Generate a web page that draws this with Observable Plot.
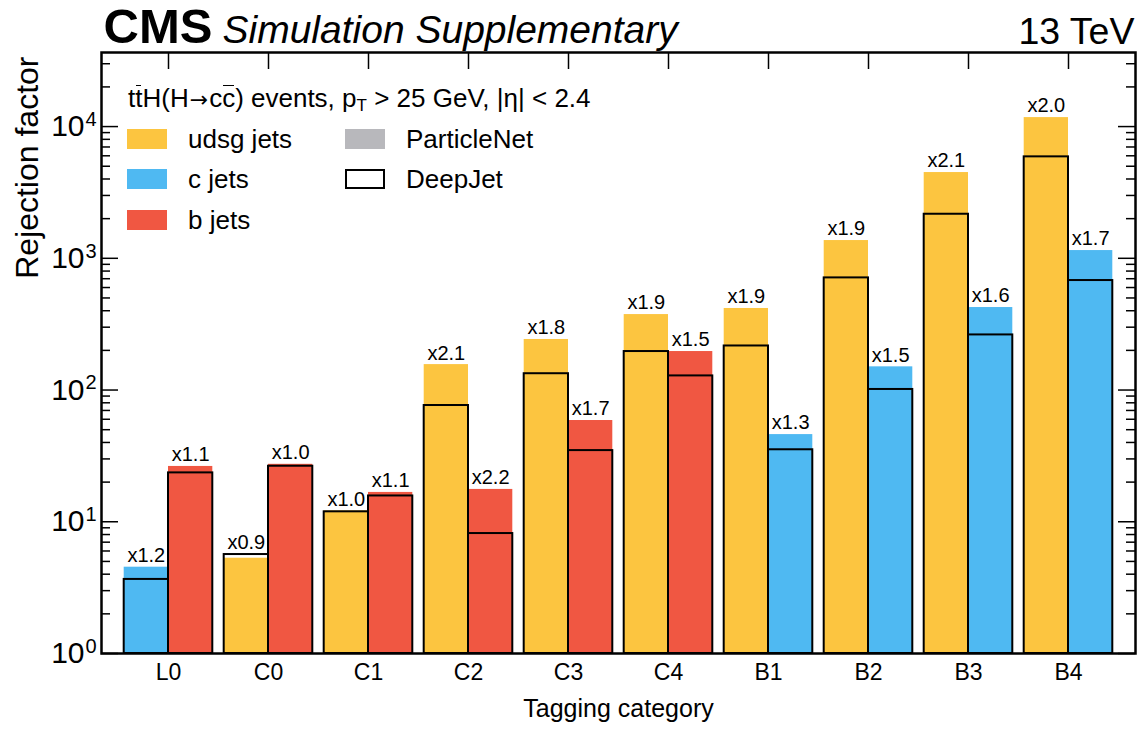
<!DOCTYPE html>
<html><head><meta charset="utf-8">
<script src="https://cdn.jsdelivr.net/npm/d3@7"></script>
<script src="https://cdn.jsdelivr.net/npm/@observablehq/plot@0.6"></script>
<style>
body{margin:0;background:#fff;font-family:"Liberation Sans",Arial,Helvetica,sans-serif;}
#wrap{position:relative;width:1145px;height:731px;overflow:hidden}
#wrap svg{position:absolute;left:0;top:0}
.leg{position:absolute;font-size:26px;line-height:26px;color:#000;white-space:nowrap}
.sw{position:absolute;width:40px;height:20px;box-sizing:border-box}
.ob{position:relative;display:inline-block}
.ob::after{content:"";position:absolute;left:1px;right:1px;top:0px;border-top:1.6px solid #000}
.arr{font-family:"DejaVu Sans",sans-serif;font-size:22px;margin:0 1px}
.leg sub{font-size:17px;vertical-align:-4px;line-height:0}
</style></head><body><div id="wrap"></div>
<script>
// ---- data ----
const categories   = ["L0","C0","C1","C2","C3","C4","B1","B2","B3","B4"];
const leftFlavour  = ["c","udsg","udsg","udsg","udsg","udsg","udsg","udsg","udsg","udsg"];
const rightFlavour = ["b","b","b","b","b","b","c","c","c","c"];
const leftParticleNet  = [4.52, 5.29, 12.1, 156, 242, 374, 416, 1364, 4477, 11700];
const leftDeepJet      = [3.65, 5.64, 11.9, 76.3, 133, 196, 216, 710, 2160, 5890];
const rightParticleNet = [26.3, 27.3, 16.7, 17.6, 58.7, 196, 45.9, 150, 423, 1145];
const rightDeepJet     = [23.5, 26.4, 15.7, 8.14, 34.7, 128, 35.2, 101, 262, 678];
const leftRatio  = ["x1.2","x0.9","x1.0","x2.1","x1.8","x1.9","x1.9","x1.9","x2.1","x2.0"];
const rightRatio = ["x1.1","x1.0","x1.1","x2.2","x1.7","x1.5","x1.3","x1.5","x1.6","x1.7"];
const flavours = ["udsg","c","b"];
const flavourColors = ["#fcc540","#4fb9f2","#f05742"];
const yMajorTicks = [1, 10, 100, 1000, 10000];
const yMinorTicks = [0,1,2,3,4].flatMap(e => [2,3,4,5,6,7,8,9].map(k => k * 10 ** e)).filter(v => v < 36500);

// ---- table ----
const barWidth = 0.443;
const rows = categories.flatMap((cat, i) => [
  {cat, i, flavour: leftFlavour[i], pn: leftParticleNet[i], dj: leftDeepJet[i], ratio: leftRatio[i], x1: i - barWidth, x2: i},
  {cat, i, flavour: rightFlavour[i], pn: rightParticleNet[i], dj: rightDeepJet[i], ratio: rightRatio[i], x1: i, x2: i + barWidth}
]).map(r => ({...r, xc: (r.x1 + r.x2) / 2, top: Math.max(r.pn, r.dj)}));

const W = 1145, H = 731, mL = 101, mR = 10, mT = 52, mB = 78;
const fw = W - mL - mR, fh = H - mT - mB;
const M = "middle";

const plot = Plot.plot({
  width: W, height: H,
  marginTop: mT, marginLeft: mL, marginRight: mR, marginBottom: mB,
  style: {fontFamily: "Liberation Sans, Arial, Helvetica, sans-serif", background: "white", color: "black", overflow: "visible"},
  x: {type: "linear", domain: [-0.67, 9.67], axis: null},
  y: {type: "log", domain: [1, 36500], axis: null},
  color: {domain: flavours, range: flavourColors},
  marks: [
    Plot.rect(rows, {x1: "x1", x2: "x2", y1: 1, y2: "pn", fill: "flavour"}),
    Plot.rect(rows, {x1: "x1", x2: "x2", y1: 1, y2: "dj", fill: "none", stroke: "black", strokeWidth: 2}),
    Plot.text(rows, {x: "xc", y: "top", text: "ratio", lineAnchor: M, dy: -11.5, fontSize: 20, fill: "black"}),
    // ticks
    Plot.tickY(yMajorTicks, {y: d => d, insetRight: fw - 17, stroke: "black", strokeWidth: 1.5}),
    Plot.tickY(yMinorTicks, {y: d => d, insetRight: fw - 9, stroke: "black", strokeWidth: 1.5}),
    Plot.tickY(yMajorTicks, {y: d => d, insetLeft: fw - 17, stroke: "black", strokeWidth: 1.5}),
    Plot.tickY(yMinorTicks, {y: d => d, insetLeft: fw - 9, stroke: "black", strokeWidth: 1.5}),
    Plot.tickX(categories.map((c, i) => i), {x: d => d, insetBottom: fh - 17, stroke: "black", strokeWidth: 1.5}),
    Plot.frame({stroke: "black", strokeWidth: 2.5}),
    // y tick labels 10^n
    Plot.text(yMajorTicks, {y: d => d, frameAnchor: "left", lineAnchor: M, text: () => "10", textAnchor: "end", dx: -17, fontSize: 30, fill: "black"}),
    Plot.text(yMajorTicks, {y: d => d, frameAnchor: "left", lineAnchor: M, text: d => String(Math.round(Math.log10(d))), textAnchor: "start", dx: -16, dy: -7, fontSize: 20, fill: "black"}),
    // category labels
    Plot.text(categories, {x: (d, i) => i, frameAnchor: "bottom", lineAnchor: M, text: d => d, dy: 19, fontSize: 23, fill: "black"}),
    // axis titles
    Plot.text(["Tagging category"], {frameAnchor: "bottom", lineAnchor: M, text: d => d, dy: 55, fontSize: 25, fill: "black"}),
    Plot.text(["Rejection factor"], {frameAnchor: "top-left", lineAnchor: M, text: d => d, rotate: -90, textAnchor: "end", dx: -74, dy: 4, fontSize: 32, fill: "black"}),
    // header
    Plot.text(["CMS"], {frameAnchor: "top-left", lineAnchor: M, text: d => d, textAnchor: "start", dx: 2, dy: -25, fontSize: 49, fontWeight: "bold", fill: "black"}),
    Plot.text(["Simulation Supplementary"], {frameAnchor: "top-left", lineAnchor: M, text: d => d, textAnchor: "start", dx: 121, dy: -22, fontSize: 39, fontStyle: "italic", fill: "black"}),
    Plot.text(["13 TeV"], {frameAnchor: "top-right", lineAnchor: M, text: d => d, textAnchor: "end", dx: -1, dy: -21, fontSize: 37.5, fill: "black"})
  ]
});

const wrap = document.getElementById("wrap");
wrap.appendChild(plot);

// ---- legend (HTML overlay inside the frame) ----
const legendItems = [
  {label: "udsg jets", color: flavourColors[0], x: 127, y: 129},
  {label: "c jets", color: flavourColors[1], x: 127, y: 169},
  {label: "b jets", color: flavourColors[2], x: 127, y: 210},
  {label: "ParticleNet", color: "#b8b8bc", x: 345, y: 129},
  {label: "DeepJet", color: "white", border: true, x: 345, y: 169}
];
const head = document.createElement("div");
head.className = "leg";
head.style.left = "128px"; head.style.top = "85px";
head.innerHTML = 't<span class="ob">t</span>H(H<span class="arr">\u2192</span>c<span class="ob">c</span>) events, p<sub>T</sub> &gt; 25 GeV, |\u03B7| &lt; 2.4';
wrap.appendChild(head);
for (const it of legendItems) {
  const sw = document.createElement("div");
  sw.className = "sw";
  sw.style.left = it.x + "px"; sw.style.top = it.y + "px";
  sw.style.background = it.color;
  if (it.border) sw.style.border = "2px solid black";
  wrap.appendChild(sw);
  const t = document.createElement("div");
  t.className = "leg";
  t.textContent = it.label;
  t.style.left = (it.x + 61) + "px"; t.style.top = (it.y - 3) + "px";
  wrap.appendChild(t);
}
</script></body></html>
